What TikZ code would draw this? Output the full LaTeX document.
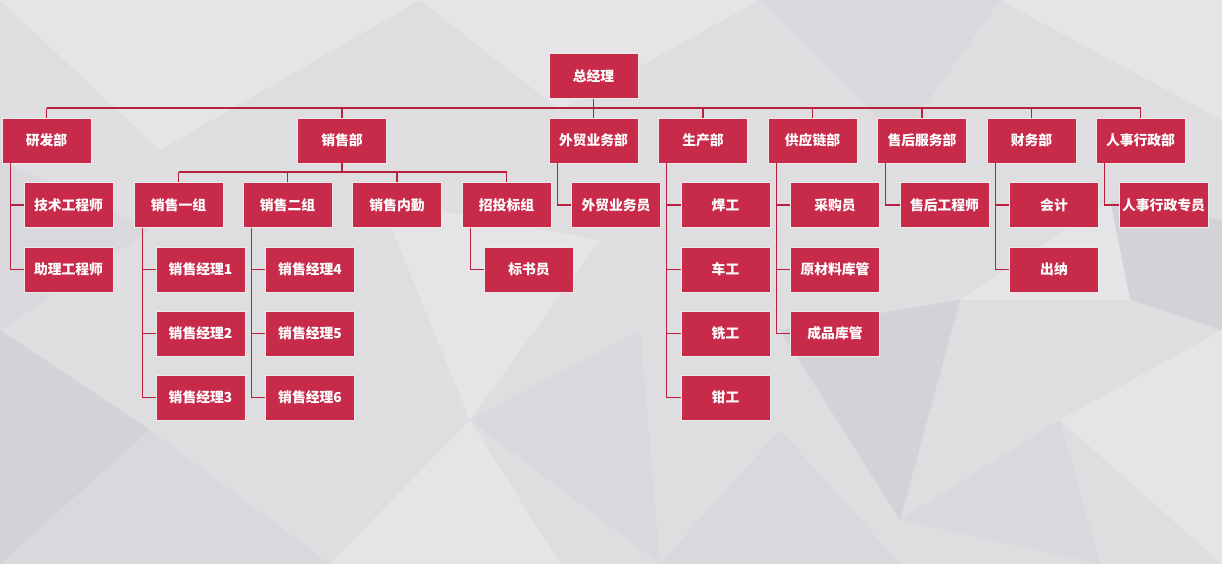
\documentclass[tikz,border=0pt]{standalone}
\usepackage{fontspec}
\newfontfamily\cjk{Noto Sans CJK SC}
\definecolor{boxred}{RGB}{200,42,74}
\definecolor{boxborder}{RGB}{242,232,235}
\definecolor{linered}{RGB}{184,32,62}
\definecolor{bgbase}{RGB}{222,221,224}
\definecolor{bglight}{RGB}{229,228,231}
\definecolor{bgmid}{RGB}{217,216,220}
\definecolor{bgdark}{RGB}{211,210,215}
\begin{document}
\begin{tikzpicture}[x=1pt,y=-1pt,
  box/.style={rectangle, fill=boxred, draw=boxborder, line width=0.8pt,
    minimum width=89pt, minimum height=45pt, inner sep=0pt, text=white,
    font=\cjk\bfseries\fontsize{13.8}{15}\selectfont},
  conn/.style={draw=linered, line width=1.1pt}]
\useasboundingbox (0,0) rectangle (1222,564);
% background
\fill[bgbase] (0,0) rectangle (1222,564);
\fill[bglight] (0,0) -- (420,0) -- (160,150) -- cycle;
\fill[bglight] (420,0) -- (760,0) -- (560,110) -- cycle;
\fill[bgmid] (760,0) -- (1000,0) -- (900,140) -- cycle;
\fill[bglight] (1000,0) -- (1222,0) -- (1222,120) -- cycle;
\fill[bgmid] (0,160) -- (150,230) -- (0,330) -- cycle;
\fill[bgdark] (0,330) -- (150,430) -- (0,564) -- cycle;
\fill[bgmid] (150,430) -- (330,564) -- (0,564) -- cycle;
\fill[bglight] (380,200) -- (600,240) -- (470,420) -- cycle;
\fill[bgmid] (470,420) -- (640,330) -- (660,564) -- cycle;
\fill[bglight] (330,564) -- (470,420) -- (560,564) -- cycle;
\fill[bgdark] (780,330) -- (960,300) -- (900,520) -- cycle;
\fill[bgmid] (900,520) -- (1060,420) -- (1100,564) -- cycle;
\fill[bglight] (1060,420) -- (1222,330) -- (1222,564) -- cycle;
\fill[bgdark] (1110,200) -- (1222,220) -- (1222,330) -- (1130,300) -- cycle;
\fill[bgmid] (660,564) -- (780,430) -- (900,564) -- cycle;
\fill[bglight] (960,300) -- (1110,200) -- (1130,300) -- cycle;
% nodes
\node[box] (boss) at (593.5,76) {总经理};
\node[box] (d1) at (46.5,140.5) {研发部};
\node[box] (d2) at (342,140.5) {销售部};
\node[box] (d3) at (593.5,140.5) {外贸业务部};
\node[box] (d4) at (703,140.5) {生产部};
\node[box] (d5) at (812.5,140.5) {供应链部};
\node[box] (d6) at (922,140.5) {售后服务部};
\node[box] (d7) at (1031.5,140.5) {财务部};
\node[box] (d8) at (1140.5,140.5) {人事行政部};
% 研发部
\node[box] (r1) at (68.5,205) {技术工程师};
\node[box] (r2) at (68.5,269.5) {助理工程师};
% 销售部
\node[box] (s1) at (178.5,205) {销售一组};
\node[box] (s2) at (287.5,205) {销售二组};
\node[box] (s3) at (397,205) {销售内勤};
\node[box] (s4) at (506.5,205) {招投标组};
\node[box] (m1) at (200.5,269.5) {销售经理1};
\node[box] (m2) at (200.5,333.5) {销售经理2};
\node[box] (m3) at (200.5,397.5) {销售经理3};
\node[box] (m4) at (310,269.5) {销售经理4};
\node[box] (m5) at (310,333.5) {销售经理5};
\node[box] (m6) at (310,397.5) {销售经理6};
\node[box] (b1) at (529,269.5) {标书员};
% 外贸
\node[box] (w1) at (616,205) {外贸业务员};
% 生产
\node[box] (p1) at (725.5,205) {焊工};
\node[box] (p2) at (725.5,269.5) {车工};
\node[box] (p3) at (725.5,333.5) {铣工};
\node[box] (p4) at (725.5,397.5) {钳工};
% 供应链
\node[box] (g1) at (835,205) {采购员};
\node[box] (g2) at (835,269.5) {原材料库管};
\node[box] (g3) at (835,333.5) {成品库管};
% 售后
\node[box] (h1) at (944.5,205) {售后工程师};
% 财务
\node[box] (f1) at (1054,205) {会计};
\node[box] (f2) at (1054,269.5) {出纳};
% 人事
\node[box] (e1) at (1163.5,205) {人事行政专员};
% connectors
\coordinate (bar) at (0,108);
\coordinate (sbar) at (0,172);
\draw[conn] (boss.south) -- (boss.south |- bar);
\draw[conn] (d1.north |- bar) -- (d8.north |- bar);
\foreach \d in {d1,d2,d3,d4,d5,d6,d7,d8}
  \draw[conn] (\d.north) -- (\d.north |- bar);
\draw[conn] (d2.south) -- (d2.south |- sbar);
\draw[conn] (s1.north |- sbar) -- (s4.north |- sbar);
\foreach \s in {s1,s2,s3,s4}
  \draw[conn] (\s.north) -- (\s.north |- sbar);
% elbows
\draw[conn] ([xshift=8.5pt]d1.south west) |- (r2.west);
\draw[conn] ([xshift=8.5pt]d1.south west |- r1.west) -- (r1.west);
\draw[conn] ([xshift=8.5pt]s1.south west) |- (m3.west);
\draw[conn] ([xshift=8.5pt]s1.south west |- m1.west) -- (m1.west);
\draw[conn] ([xshift=8.5pt]s1.south west |- m2.west) -- (m2.west);
\draw[conn] ([xshift=8.5pt]s2.south west) |- (m6.west);
\draw[conn] ([xshift=8.5pt]s2.south west |- m4.west) -- (m4.west);
\draw[conn] ([xshift=8.5pt]s2.south west |- m5.west) -- (m5.west);
\draw[conn] ([xshift=8.5pt]s4.south west) |- (b1.west);
\draw[conn] ([xshift=8.5pt]d3.south west) |- (w1.west);
\draw[conn] ([xshift=8.5pt]d4.south west) |- (p4.west);
\draw[conn] ([xshift=8.5pt]d4.south west |- p1.west) -- (p1.west);
\draw[conn] ([xshift=8.5pt]d4.south west |- p2.west) -- (p2.west);
\draw[conn] ([xshift=8.5pt]d4.south west |- p3.west) -- (p3.west);
\draw[conn] ([xshift=8.5pt]d5.south west) |- (g3.west);
\draw[conn] ([xshift=8.5pt]d5.south west |- g1.west) -- (g1.west);
\draw[conn] ([xshift=8.5pt]d5.south west |- g2.west) -- (g2.west);
\draw[conn] ([xshift=8.5pt]d6.south west) |- (h1.west);
\draw[conn] ([xshift=8.5pt]d7.south west) |- (f2.west);
\draw[conn] ([xshift=8.5pt]d7.south west |- f1.west) -- (f1.west);
\draw[conn] ([xshift=8.5pt]d8.south west) |- (e1.west);
\end{tikzpicture}
\end{document}
